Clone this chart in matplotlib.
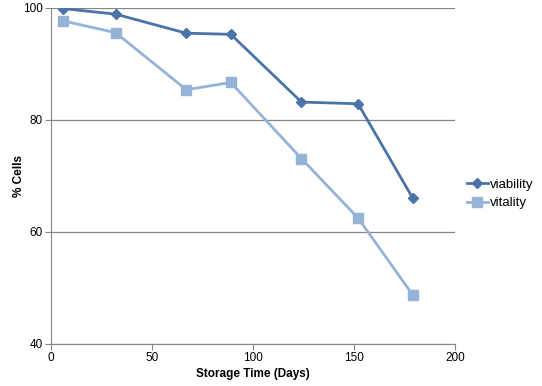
import matplotlib.pyplot as plt

plt.rcParams['font.family'] = ['Liberation Sans', 'DejaVu Sans']

days = [6, 32, 67, 89, 124, 152, 179]
viability = [99.9, 98.9, 95.5, 95.3, 83.2, 82.9, 66.1]
vitality = [97.7, 95.6, 85.4, 86.7, 73.1, 62.5, 48.8]

fig = plt.figure(figsize=(5.42, 3.86), dpi=100)
ax = fig.add_axes([51/542, 42/386, 404/542, 336/386])

ax.plot(days, viability, color='#4a74a8', lw=2, marker='D', ms=5,
        label='viability', zorder=3)
ax.plot(days, vitality, color='#95b3d7', lw=2, marker='s', ms=6.5,
        label='vitality', zorder=3)

ax.set_xlim(0, 200)
ax.set_ylim(40, 100)
ax.set_xticks([0, 50, 100, 150, 200])
ax.set_yticks([40, 60, 80, 100])
ax.yaxis.grid(True, color='#868686', lw=0.9)
ax.set_axisbelow(True)

for s in ['top', 'right']:
    ax.spines[s].set_visible(False)
for s in ['left', 'bottom']:
    ax.spines[s].set_color('#868686')
ax.tick_params(colors='#868686', labelcolor='black', labelsize=8.5,
               direction='out', length=4, pad=2)

ax.set_xlabel('Storage Time (Days)', fontsize=8.5, fontweight='bold', labelpad=3)
ax.set_ylabel('% Cells', fontsize=8.5, fontweight='bold')
ax.yaxis.set_label_coords(-26/404, 0.5)

ax.legend(loc='center left', bbox_to_anchor=(460/542, 1 - 194/386),
          bbox_transform=fig.transFigure, frameon=False, borderpad=0,
          fontsize=9.5, handlelength=1.6, handletextpad=0.15, labelspacing=0.45)

fig.savefig('out.png', dpi=100)
